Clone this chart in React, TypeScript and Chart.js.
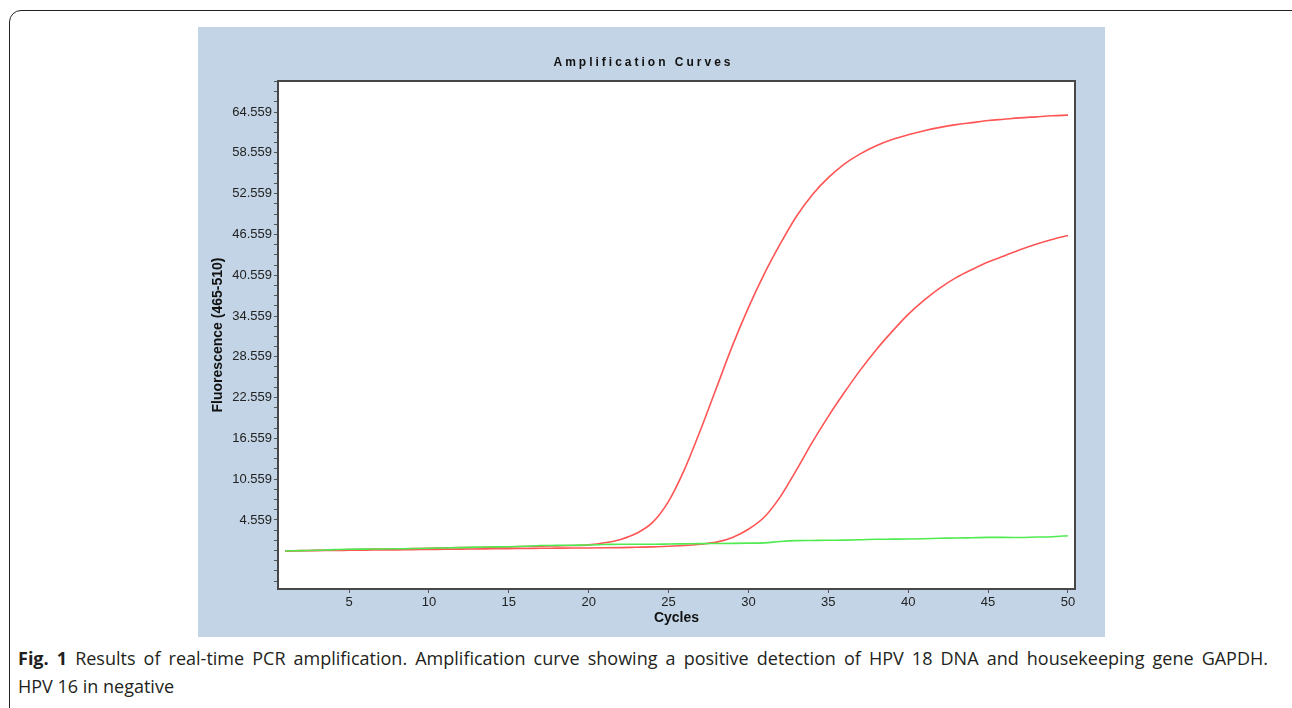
import React, { useEffect, useRef } from 'react';
import { Chart, registerables } from 'chart.js';

Chart.register(...registerables);

// ---- data ----
const cycles = [
  1, 2, 3, 4, 5, 6, 7, 8, 9, 10, 11, 12, 13, 14, 15, 16, 17, 18, 19, 20, 21, 22, 23, 24, 25,
  26, 27, 28, 29, 30, 31, 32, 33, 34, 35, 36, 37, 38, 39, 40, 41, 42, 43, 44, 45, 46, 47, 48, 49, 50,
];

const hpv18Curve = [
  0.0, 0.05, 0.1, 0.15, 0.2, 0.25, 0.3, 0.3, 0.35, 0.4, 0.45, 0.5, 0.5, 0.55, 0.6, 0.65, 0.7, 0.75, 0.8, 0.9,
  1.2, 1.7, 2.6, 4.2, 7.3, 12.0, 17.8, 24.0, 30.2, 35.8, 40.8, 45.2, 49.2, 52.4, 54.9, 56.9, 58.4, 59.6, 60.5, 61.2,
  61.8, 62.3, 62.7, 63.0, 63.3, 63.5, 63.7, 63.85, 64.0, 64.1,
];

const gapdhCurve = [
  0.0, 0.03, 0.05, 0.08, 0.1, 0.12, 0.15, 0.17, 0.2, 0.22, 0.25, 0.27, 0.3, 0.32, 0.35, 0.37, 0.4, 0.42, 0.44, 0.45,
  0.47, 0.5, 0.55, 0.6, 0.7, 0.8, 1.0, 1.3, 2.0, 3.2, 5.0, 8.0, 11.9, 16.0, 19.8, 23.3, 26.6, 29.6, 32.3, 34.8,
  36.9, 38.7, 40.2, 41.4, 42.5, 43.4, 44.3, 45.1, 45.8, 46.4,
];

const hpv16Curve = [
  0.0, 0.05, 0.1, 0.2, 0.25, 0.28, 0.3, 0.33, 0.36, 0.4, 0.45, 0.5, 0.57, 0.6, 0.63, 0.7, 0.8, 0.82, 0.85, 0.88,
  0.95, 1.0, 1.0, 1.0, 1.02, 1.05, 1.08, 1.1, 1.12, 1.15, 1.2, 1.4, 1.52, 1.55, 1.58, 1.6, 1.65, 1.72, 1.74, 1.76,
  1.8, 1.87, 1.9, 1.95, 2.0, 2.0, 1.98, 2.05, 2.1, 2.25,
];

const yTickValues = [4.559, 10.559, 16.559, 22.559, 28.559, 34.559, 40.559, 46.559, 52.559, 58.559, 64.559];
const xTickValues = [5, 10, 15, 20, 25, 30, 35, 40, 45, 50];

const chartTitle = 'Amplification Curves';
const xTitle = 'Cycles';
const yTitle = 'Fluorescence (465-510)';

const Y_MIN = -5.59;
const Y_MAX = 69.12;
const X_MIN = 0.556;
const X_MAX = 50.44;
const Y_MINOR_STEP = 1.5;

const RED = 'rgb(255, 85, 85)';
const GREEN = 'rgb(80, 235, 80)';

const tickFont = { family: '"Liberation Sans", Arial, sans-serif', size: 13 };
const titleFont = { family: '"Liberation Sans", Arial, sans-serif', size: 14, weight: 'bold' as const };

const frame = {
  id: 'plotFrame',
  beforeDraw(chart: any) {
    const { ctx, chartArea: a } = chart;
    ctx.save();
    ctx.fillStyle = '#ffffff';
    ctx.fillRect(a.left, a.top, a.right - a.left, a.bottom - a.top);
    ctx.restore();
  },
  afterDraw(chart: any) {
    const { ctx, chartArea: a } = chart;
    ctx.save();
    ctx.strokeStyle = '#474747';
    ctx.lineWidth = 2;
    ctx.strokeRect(a.left, a.top, a.right - a.left, a.bottom - a.top);
    ctx.font = 'bold 12px "Liberation Sans", Arial, sans-serif';
    (ctx as any).letterSpacing = '3px';
    ctx.fillStyle = '#111';
    ctx.textAlign = 'center';
    ctx.textBaseline = 'middle';
    ctx.fillText(chartTitle, (a.left + a.right) / 2 - 33, a.top - 18);
    ctx.restore();
  },
};

function App() {
  const ref = useRef<HTMLCanvasElement | null>(null);

  useEffect(() => {
    if (!ref.current) return;
    const mk = (vals: number[]) => cycles.map((c, i) => ({ x: c, y: vals[i] }));
    const common = { borderWidth: 1.6, pointRadius: 0, cubicInterpolationMode: 'monotone' as const, fill: false };
    const chart = new Chart(ref.current, {
      type: 'line',
      data: {
        datasets: [
          { label: 'HPV 16', data: mk(hpv16Curve), borderColor: GREEN, ...common },
          { label: 'GAPDH', data: mk(gapdhCurve), borderColor: RED, ...common },
          { label: 'HPV 18', data: mk(hpv18Curve), borderColor: RED, ...common },
        ],
      },
      plugins: [frame],
      options: {
        animation: false,
        responsive: false,
        devicePixelRatio: 1,
        layout: { padding: { left: 0, top: 54, right: 30, bottom: 0 } },
        plugins: {
          legend: { display: false },
          tooltip: { enabled: false },
          title: { display: false },
        },
        scales: {
          x: {
            type: 'linear',
            min: X_MIN,
            max: X_MAX,
            afterFit: (s: any) => { s.height = 48; },
            afterBuildTicks: (s: any) => { s.ticks = xTickValues.map((v) => ({ value: v })); },
            ticks: { autoSkip: false, maxRotation: 0, padding: 1.5, color: '#222', font: tickFont, callback: (v: any) => String(v) },
            grid: { display: true, drawOnChartArea: false, drawTicks: true, tickLength: 4, color: '#555' },
            border: { display: false },
            title: { display: true, text: xTitle, color: '#111', font: titleFont, padding: { top: 0, bottom: 10.6 } },
          },
          y: {
            type: 'linear',
            min: Y_MIN,
            max: Y_MAX,
            afterFit: (s: any) => { s.width = 80; },
            afterBuildTicks: (s: any) => {
              const base = yTickValues[0];
              const t: { value: number }[] = [];
              let v = base;
              while (v - Y_MINOR_STEP >= Y_MIN) v -= Y_MINOR_STEP;
              for (; v <= Y_MAX; v += Y_MINOR_STEP) t.push({ value: v });
              s.ticks = t;
            },
            ticks: {
              autoSkip: false,
              padding: 2,
              color: '#222',
              font: tickFont,
              callback: (v: any) => {
                const m = yTickValues.find((t) => Math.abs(t - Number(v)) < 1e-3);
                return m !== undefined ? m.toFixed(3) : '';
              },
            },
            grid: { display: true, drawOnChartArea: false, drawTicks: true, tickLength: 4, color: '#555' },
            border: { display: false },
            title: { display: true, text: yTitle, color: '#111', font: titleFont, padding: { top: 12, bottom: 0 } },
          },
        },
      } as any,
    });
    return () => chart.destroy();
  }, []);

  return (
    <div style={{ position: 'fixed', left: 0, top: 0, right: 0, bottom: 0, overflow: 'hidden', background: '#fff' }}>
      <div
        style={{
          position: 'absolute',
          left: 9,
          top: 10,
          width: 1300,
          height: 760,
          border: '1.5px solid #222',
          borderRadius: 12,
          boxSizing: 'border-box',
        }}
      />
      <div style={{ position: 'absolute', left: 198, top: 27, width: 907, height: 610, background: '#c2d4e5' }}>
        <canvas ref={ref} width={907} height={610} style={{ display: 'block', width: 907, height: 610 }} />
      </div>
      <div
        style={{
          position: 'absolute',
          left: 18,
          top: 644,
          width: 1250,
          fontFamily: '"Open Sans", sans-serif',
          fontSize: 18,
          lineHeight: '28px',
          color: '#231f20',
        }}
      >
        <div style={{ whiteSpace: 'nowrap', textAlign: 'justify', textAlignLast: 'justify' } as any}>
          <b>Fig. 1</b> Results of real-time PCR amplification. Amplification curve showing a positive detection of HPV 18 DNA and housekeeping gene GAPDH.
        </div>
        <div>HPV 16 in negative</div>
      </div>
    </div>
  );
}

export default App;
